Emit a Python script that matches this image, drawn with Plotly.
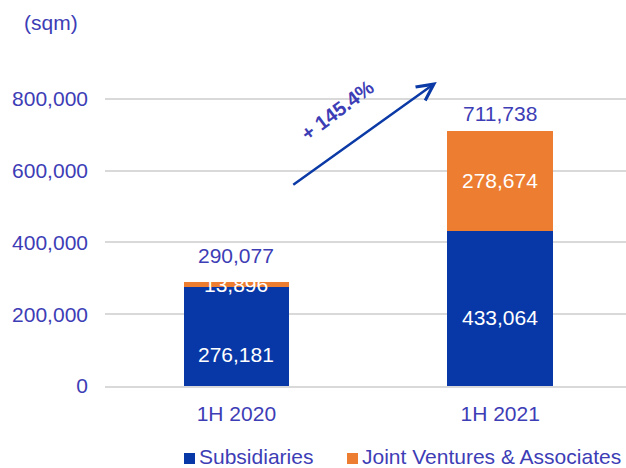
import plotly.graph_objects as go

# Floor area by period (sqm)
periods = ["1H 2020", "1H 2021"]
subsidiaries = [276181, 433064]
joint_ventures = [13896, 278674]
totals = [s + j for s, j in zip(subsidiaries, joint_ventures)]
growth_label = "+ 145.4%"
y_ticks = [0, 200000, 400000, 600000, 800000]
series_names = ["Subsidiaries", "Joint Ventures & Associates"]

BLUE = "#0838A8"
ORANGE = "#ED7D31"
TEXT = "#3D3DB6"
GRID = "#D9D9D9"
FONT = "Liberation Sans, Arial, sans-serif"
FS = 21

# plot area geometry (pixels)
L, T, W, H = 105, 63, 521, 323


def px_x(px):
    return (px - L) / W


def px_y(py):
    return 1 - (py - T) / H


fig = go.Figure()
fig.add_trace(go.Bar(x=periods, y=subsidiaries, name=series_names[0],
                     marker=dict(color=BLUE, line=dict(width=0)), width=0.4))
fig.add_trace(go.Bar(x=periods, y=joint_ventures, name=series_names[1],
                     marker=dict(color=ORANGE, line=dict(width=0)), width=0.4))

fmt = lambda v: f"{v:,}"
ann = []
# totals above each stack
total_shift = [13, 4]
for p, t, s in zip(periods, totals, total_shift):
    ann.append(dict(x=p, y=t, text=fmt(t), showarrow=False, yanchor="bottom",
                    yshift=s, font=dict(color=TEXT, size=FS, family=FONT)))
# subsidiaries inside labels
sub_shift = [-18, -9]
for p, v, s in zip(periods, subsidiaries, sub_shift):
    ann.append(dict(x=p, y=v / 2, text=fmt(v), showarrow=False, yshift=s,
                    font=dict(color="white", size=FS, family=FONT)))
# joint ventures inside labels
for p, base, v in zip(periods, subsidiaries, joint_ventures):
    ann.append(dict(x=p, y=base + v / 2, text=fmt(v), showarrow=False,
                    font=dict(color="white", size=FS, family=FONT)))

# growth arrow and label
ann.append(dict(x=0.7596, y=847000, ax=0.210, ay=557500, xref="x", yref="y",
                axref="x", ayref="y", text="", showarrow=True, arrowhead=5,
                arrowsize=1.3, arrowwidth=2.5, arrowcolor="#0B3AA6"))
ann.append(dict(x=0.385, y=768000, text=f"<b>{growth_label}</b>", showarrow=False,
                textangle=-37, font=dict(color=TEXT, size=20, family=FONT)))

# unit label
ann.append(dict(x=px_x(22), y=px_y(22), xref="paper", yref="paper",
                xanchor="left", yanchor="middle", text="(sqm)", showarrow=False,
                font=dict(color=TEXT, size=FS, family=FONT)))

# legend: colour swatch + label
shapes = []
for name, color, sx in zip(series_names, [BLUE, ORANGE], [184, 347]):
    shapes.append(dict(type="rect", xref="paper", yref="paper",
                       x0=px_x(sx), x1=px_x(sx + 11), y0=px_y(464), y1=px_y(453),
                       fillcolor=color, line=dict(width=0)))
    ann.append(dict(x=px_x(sx + 13), y=px_y(468), xref="paper", yref="paper",
                    xanchor="left", yanchor="bottom", yshift=-2, showarrow=False,
                    text=name, font=dict(color=TEXT, size=FS, family=FONT)))

fig.update_layout(
    barmode="stack",
    width=626, height=468,
    margin=dict(l=L, r=0, t=T, b=468 - T - H),
    paper_bgcolor="white", plot_bgcolor="white",
    showlegend=False,
    annotations=ann,
    shapes=shapes,
    font=dict(family=FONT, color=TEXT, size=FS),
    xaxis=dict(type="category", range=[-0.498, 1.477], showgrid=False,
               showline=True, linecolor=GRID, linewidth=2, ticks="",
               tickfont=dict(color=TEXT, size=FS, family=FONT),
               ticklabelstandoff=8),
    yaxis=dict(range=[0, 900000], tickvals=y_ticks,
               ticktext=[fmt(v) for v in y_ticks],
               showgrid=True, gridcolor=GRID, gridwidth=2, zeroline=False,
               tickfont=dict(color=TEXT, size=FS, family=FONT),
               ticks="", ticklabelstandoff=16),
)

fig.write_html("out.html")
